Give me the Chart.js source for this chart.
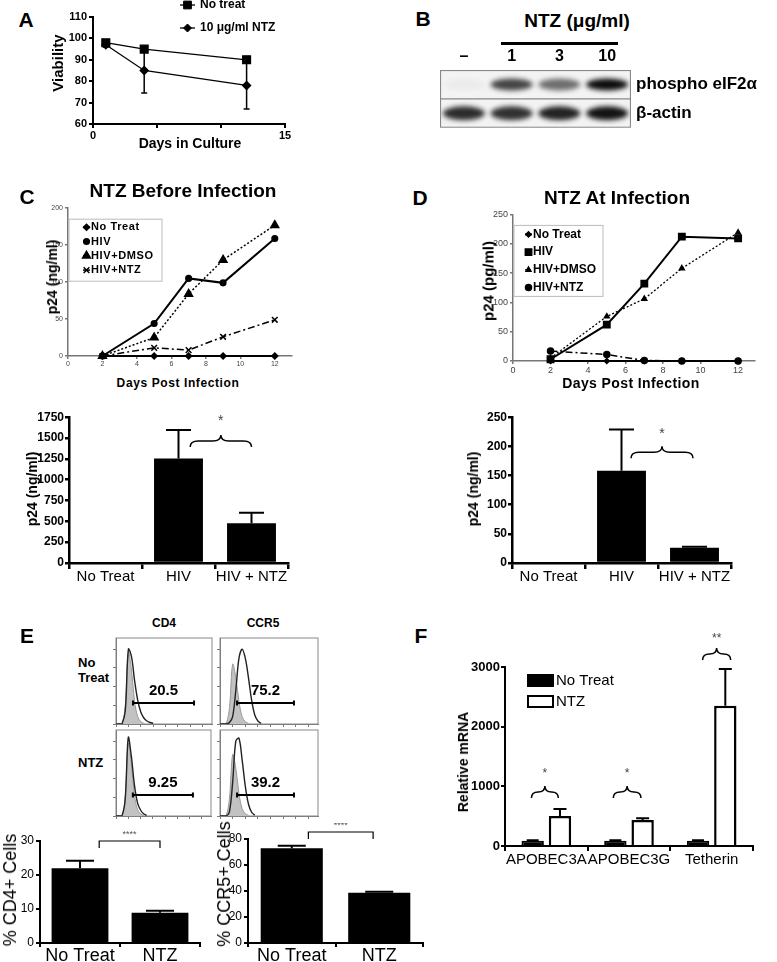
<!DOCTYPE html>
<html>
<head>
<meta charset="utf-8">
<script src="https://cdn.jsdelivr.net/npm/chart.js@4.4.1/dist/chart.umd.min.js"></script>
<style>
body { margin: 0; background: #fff; }
#fig { position: relative; width: 777px; height: 962px; overflow: hidden; font-family: "Liberation Sans", Arial, sans-serif; color: #000; }
#fig canvas { position: absolute; }
.t { position: absolute; white-space: nowrap; transform: translate(-50%, -50%); line-height: 1; }
.b { font-weight: bold; }
.rot { transform: translate(-50%, -50%) rotate(-90deg); }
.lft { transform: translate(0, -50%); }
</style>
</head>
<body>
<div id="fig"></div>
<script>
// A - viability
const viabDays = [1, 4, 12];
const viabNoTreat = [98, 95, 90];
const viabNoTreatErr = [1, 1.2, 1.5];
const viabNtz = [97, 85, 78];
const viabNtzErr = [1, 10.5, 11];

// B - western blot (band darkness 0..1)
const blotLanes = ['–', '1', '3', '10'];
const blotRows = ['phospho eIF2α', 'β-actin'];
const phosphoBand = [0.03, 0.72, 0.55, 0.95];
const actinBand = [0.82, 0.8, 0.86, 0.92];

// C / D - p24 time course
const infDays = [2, 5, 7, 9, 12];
const cNoTreat = [0, 0, 0, 0, 0];
const cHiv = [0, 44, 105, 99, 159];
const cHivDmso = [0, 25, 84, 130, 177];
const cHivNtz = [0, 11, 8, 26, 49];
const dNoTreat = [0, 0, 0, 0, 0];
const dHiv = [3, 62, 132, 212, 209];
const dHivDmso = [5, 76, 106, 158, 219];
const dHivNtz = [17, 11, 1, 0, 0];

// C / D - p24 bars
const p24Groups = ['No Treat', 'HIV', 'HIV + NTZ'];
const cP24 = [0, 1255, 476];
const cP24Err = [0, 340, 127];
const dP24 = [0, 158, 26];
const dP24Err = [0, 71, 2];

// E - flow histograms (counts per bin) and gates
const cd4NtIso = [0, 0, 1, 25, 96, 72, 30, 10, 3, 1];
const cd4NtStain = [0, 0, 1, 18, 100, 90, 58, 32, 16, 8, 4, 2, 1];
const ccr5NtIso = [0, 0, 1, 22, 80, 62, 30, 10, 3, 1];
const ccr5NtStain = [0, 0, 0, 2, 10, 45, 88, 100, 88, 62, 32, 12, 4, 1];
const cd4NtzIso = [0, 0, 1, 26, 97, 70, 28, 9, 3, 1];
const cd4NtzStain = [0, 0, 1, 22, 105, 80, 42, 18, 8, 3, 1];
const ccr5NtzIso = [0, 0, 1, 24, 82, 64, 30, 10, 3, 1];
const ccr5NtzStain = [0, 0, 0, 6, 45, 100, 104, 75, 40, 16, 5, 1];
const gatePct = ['20.5', '75.2', '9.25', '39.2'];

// E - percent positive bars
const eGroups = ['No Treat', 'NTZ'];
const cd4Pct = [22, 8.9];
const cd4Err = [2.2, 0.6];
const ccr5Pct = [72.8, 38.7];
const ccr5Err = [2, 0.8];

// F - relative mRNA
const fGenes = ['APOBEC3A', 'APOBEC3G', 'Tetherin'];
const fNoTreat = [90, 90, 90];
const fNoTreatErr = [8, 8, 8];
const fNtz = [503, 435, 2350];
const fNtzErr = [117, 29, 615];

const FONT = '"Liberation Sans", Arial, sans-serif';
Chart.defaults.font.family = FONT;
Chart.defaults.color = '#000';
Chart.defaults.animation = false;
Chart.defaults.events = [];
Chart.defaults.plugins.legend.display = false;
Chart.defaults.plugins.tooltip.enabled = false;

const fig = document.getElementById('fig');
const pts = (xs, ys) => xs.map((x, i) => ({ x: x, y: ys[i] }));
const bins = ys => ys.map((y, i) => ({ x: i, y: y }));

function text(str, x, y, size, cls, extra) {
    const d = document.createElement('div');
    d.className = 't ' + (cls || '');
    d.style.left = x + 'px';
    d.style.top = y + 'px';
    d.style.fontSize = size + 'px';
    if (extra) Object.assign(d.style, extra);
    d.textContent = str;
    fig.appendChild(d);
}

// error bars on top of points / bars
const errorBars = {
    id: 'errorBars',
    afterDatasetsDraw(chart) {
        const ctx = chart.ctx, ys = chart.scales.y;
        chart.data.datasets.forEach((ds, di) => {
            if (!ds.errors) return;
            const meta = chart.getDatasetMeta(di);
            ctx.save();
            ctx.strokeStyle = '#000';
            ctx.lineWidth = ds.errWidth || 1.5;
            meta.data.forEach((el, i) => {
                const e = ds.errors[i];
                if (!e) return;
                const raw = ds.data[i];
                const v = typeof raw === 'object' ? raw.y : raw;
                const top = ys.getPixelForValue(v + e);
                const bot = ds.errBoth ? ys.getPixelForValue(v - e) : el.y;
                const cap = (ds.errCap || 8) / 2;
                ctx.beginPath();
                ctx.moveTo(el.x, bot); ctx.lineTo(el.x, top);
                ctx.moveTo(el.x - cap, top); ctx.lineTo(el.x + cap, top);
                if (ds.errBoth) { ctx.moveTo(el.x - cap, bot); ctx.lineTo(el.x + cap, bot); }
                ctx.stroke();
            });
            ctx.restore();
        });
    }
};

// legend drawn inside / near the plot
const insetLegend = {
    id: 'insetLegend',
    afterDraw(chart, args, o) {
        if (!o || o.x === undefined) return;
        const ctx = chart.ctx, a = chart.chartArea;
        ctx.save();
        if (o.box) {
            ctx.fillStyle = '#fff';
            ctx.fillRect(a.left + o.box.x, a.top + o.box.y, o.box.w, o.box.h);
            ctx.strokeStyle = '#bbb';
            ctx.lineWidth = 1;
            ctx.strokeRect(a.left + o.box.x, a.top + o.box.y, o.box.w, o.box.h);
        }
        ctx.font = o.textFont;
        if (o.spacing) ctx.letterSpacing = o.spacing;
        ctx.textBaseline = 'middle';
        ctx.textAlign = 'left';
        chart.data.datasets.forEach((ds, i) => {
            const x = a.left + o.x, y = a.top + o.y + i * o.dy;
            if (o.bars) {
                ctx.fillStyle = ds.backgroundColor;
                ctx.strokeStyle = ds.borderColor;
                ctx.lineWidth = 2;
                ctx.fillRect(x, y - o.bh / 2, o.line, o.bh);
                ctx.strokeRect(x, y - o.bh / 2, o.line, o.bh);
            } else {
                ctx.strokeStyle = ds.borderColor;
                ctx.lineWidth = ds.borderWidth;
                ctx.setLineDash(ds.borderDash || []);
                ctx.beginPath(); ctx.moveTo(x, y); ctx.lineTo(x + o.line, y); ctx.stroke();
                ctx.setLineDash([]);
                ctx.fillStyle = ds.pointBackgroundColor || ds.borderColor;
                ctx.lineWidth = ds.pointBorderWidth || 1;
                Chart.helpers.drawPoint(ctx, { pointStyle: ds.pointStyle, radius: ds.pointRadius, rotation: 0, borderWidth: ctx.lineWidth }, x + o.line / 2, y);
            }
            ctx.fillStyle = '#000';
            ctx.fillText(ds.label, x + o.line + o.gap, y);
        });
        ctx.restore();
    }
};

// braces, brackets and flow gates in data space
const marks = {
    id: 'marks',
    afterDraw(chart, args, o) {
        if (!o || !o.items) return;
        const ctx = chart.ctx, xs = chart.scales.x, ys = chart.scales.y;
        ctx.save();
        o.items.forEach(m => {
            const x0 = xs.getPixelForValue(m.x0), x1 = xs.getPixelForValue(m.x1);
            const py = ys.getPixelForValue(m.y), xc = (x0 + x1) / 2;
            const h = m.h || 6;
            ctx.strokeStyle = m.color || '#000';
            ctx.fillStyle = m.color || '#000';
            ctx.lineWidth = m.lw || 1.5;
            ctx.beginPath();
            if (m.type === 'brace') {
                const r = Math.min(8, (x1 - x0) / 4);
                ctx.moveTo(x0, py + h);
                ctx.quadraticCurveTo(x0, py, x0 + r, py);
                ctx.lineTo(xc - r, py);
                ctx.quadraticCurveTo(xc, py, xc, py - h);
                ctx.quadraticCurveTo(xc, py, xc + r, py);
                ctx.lineTo(x1 - r, py);
                ctx.quadraticCurveTo(x1, py, x1, py + h);
            } else if (m.type === 'bracket') {
                ctx.moveTo(x0, py + h); ctx.lineTo(x0, py); ctx.lineTo(x1, py); ctx.lineTo(x1, py + h);
            } else {
                ctx.moveTo(x0, py); ctx.lineTo(x1, py);
                ctx.moveTo(x0, py - 2.5); ctx.lineTo(x0, py + 2.5);
                ctx.moveTo(x1, py - 2.5); ctx.lineTo(x1, py + 2.5);
            }
            ctx.stroke();
            if (m.text) {
                ctx.font = m.textFont;
                ctx.fillStyle = m.textColor || '#000';
                ctx.textAlign = 'center';
                ctx.textBaseline = 'middle';
                ctx.fillText(m.text, xc, py + m.ty);
            }
        });
        ctx.restore();
    }
};

// box around plot area
const frame = {
    id: 'frame',
    beforeDatasetsDraw(chart, args, o) {
        if (!o || !o.color) return;
        const a = chart.chartArea, ctx = chart.ctx;
        ctx.save();
        ctx.strokeStyle = o.color;
        ctx.lineWidth = 1;
        ctx.strokeRect(a.left, a.top, a.width, a.height);
        ctx.restore();
    }
};

// western blot bands placed on the lane / row scales
const blotBands = {
    id: 'blotBands',
    beforeDatasetsDraw(chart, args, o) {
        if (!o || !o.rows) return;
        const ctx = chart.ctx, a = chart.chartArea, xs = chart.scales.x, ys = chart.scales.y;
        const laneW = xs.getPixelForValue(1) - xs.getPixelForValue(0);
        ctx.save();
        ctx.fillStyle = '#f3f3f3';
        ctx.fillRect(a.left, a.top, a.width, a.height);
        ctx.beginPath(); ctx.rect(a.left, a.top, a.width, a.height); ctx.clip();
        o.rows.forEach((row, r) => {
            const cy = ys.getPixelForValue(r);
            row.forEach((v, i) => {
                const cx = xs.getPixelForValue(i);
                ctx.filter = 'blur(2.5px)';
                ctx.fillStyle = 'rgba(0,0,0,' + v + ')';
                ctx.beginPath();
                ctx.ellipse(cx, cy, laneW * 0.44, o.bandH[r] / 2, 0, 0, Math.PI * 2);
                ctx.fill();
            });
        });
        ctx.filter = 'none';
        ctx.strokeStyle = '#888';
        ctx.lineWidth = 1.2;
        ctx.strokeRect(a.left + 0.5, a.top + 0.5, a.width - 1, a.height - 1);
        const mid = (ys.getPixelForValue(0) + ys.getPixelForValue(1)) / 2;
        ctx.beginPath(); ctx.moveTo(a.left, mid); ctx.lineTo(a.right, mid); ctx.stroke();
        ctx.restore();
    }
};

Chart.register(errorBars, insetLegend, marks, frame, blotBands);

function makeChart(area, pad, cfg) {
    const c = document.createElement('canvas');
    const w = area.r - area.l + pad.yw + pad.r;
    const h = area.b - area.t + pad.t + pad.xh;
    c.width = w;
    c.height = h;
    c.style.left = (area.l - pad.yw) + 'px';
    c.style.top = (area.t - pad.t) + 'px';
    fig.appendChild(c);
    Object.assign(cfg.options, {
        responsive: false,
        maintainAspectRatio: false,
        layout: { padding: { top: pad.t, right: pad.r, left: 0, bottom: 0 }, autoPadding: false }
    });
    cfg.options.scales.x.afterFit = s => { s.height = pad.xh; };
    cfg.options.scales.y.afterFit = s => { s.width = pad.yw; };
    return new Chart(c, cfg);
}

function axis(extra, lw, tl, color) {
    const a = Object.assign({
        grid: { display: true, drawOnChartArea: false, drawTicks: true, tickLength: tl, color: color || '#000', lineWidth: lw },
        border: { display: true, color: color || '#000', width: lw },
        ticks: { color: '#000', padding: 2 }
    }, extra);
    Object.assign(a.ticks, { maxRotation: 0, minRotation: 0, autoSkip: false, includeBounds: false, format: { useGrouping: false } });
    return a;
}

// ---------- A ----------
makeChart({ l: 93, t: 17, r: 285, b: 124 }, { yw: 40, xh: 22, t: 17, r: 14 }, {
    type: 'line',
    data: {
        datasets: [
            { label: 'No treat', data: pts(viabDays, viabNoTreat), errors: viabNoTreatErr, errBoth: true, errCap: 6,
              borderColor: '#000', backgroundColor: '#000', pointBackgroundColor: '#000', borderWidth: 1.3,
              pointStyle: 'rect', pointRadius: 5.5, clip: false },
            { label: '10 μg/ml NTZ', data: pts(viabDays, viabNtz), errors: viabNtzErr, errBoth: true, errCap: 6,
              borderColor: '#000', backgroundColor: '#000', pointBackgroundColor: '#000', borderWidth: 1.3,
              pointStyle: 'rectRot', pointRadius: 4, clip: false }
        ]
    },
    options: {
        scales: {
            x: axis({ type: 'linear', min: 0, max: 15,
                ticks: { stepSize: 5, font: { size: 11, weight: 'bold' }, color: '#000', padding: 1,
                         callback: v => (v === 0 || v === 15) ? v : '' } }, 2, 4),
            y: axis({ min: 60, max: 110,
                ticks: { stepSize: 10, font: { size: 11, weight: 'bold' }, color: '#000', padding: 2 } }, 2, 4)
        },
        plugins: {
            insetLegend: { x: 87, y: -12, dy: 23, line: 15, gap: 5, textFont: 'bold 12px ' + FONT }
        }
    }
});
text('A', 26, 19, 21, 'b');
text('Viability', 57, 63, 15, 'b rot');
text('Days in Culture', 190, 143, 14, 'b');

// ---------- B ----------
(function () {
    const c = document.createElement('canvas');
    c.width = 337; c.height = 103;
    c.style.left = '440px'; c.style.top = '40px';
    fig.appendChild(c);
    new Chart(c, {
        type: 'bar',
        data: { labels: blotLanes, datasets: [] },
        options: {
            responsive: false,
            layout: { padding: 0, autoPadding: false },
            scales: {
                x: { position: 'top', offset: true, grid: { display: false, drawTicks: false }, border: { display: false },
                     ticks: { font: { size: 16, weight: 'bold' }, color: '#000', padding: 4, maxRotation: 0 },
                     afterFit: s => { s.height = 30; } },
                y: { type: 'category', labels: blotRows, position: 'right', offset: true,
                     grid: { display: false, drawTicks: false }, border: { display: false },
                     ticks: { font: { size: 17, weight: 'bold' }, color: '#000', padding: 5 },
                     afterFit: s => { s.width = 146; } }
            },
            plugins: { blotBands: { rows: [phosphoBand, actinBand], bandH: [12, 14] } }
        }
    });
})();
text('B', 423, 18, 21, 'b');
text('NTZ (μg/ml)', 577, 20, 19, 'b');
(function () {
    const d = document.createElement('div');
    Object.assign(d.style, { position: 'absolute', left: '501px', top: '42px', width: '117px', height: '3px', background: '#000' });
    fig.appendChild(d);
})();

// ---------- C / D time course ----------
function courseChart(area, yMax, xMax, tickSize, sets, legend) {
    return makeChart(area, { yw: 22, xh: 16, t: 6, r: 8 }, {
        type: 'line',
        data: { datasets: sets },
        options: {
            scales: {
                x: axis({ type: 'linear', min: 0, max: xMax,
                    ticks: { stepSize: 2, font: { size: tickSize }, color: '#444', padding: 1 } }, 1.5, 3, '#777'),
                y: axis({ min: 0, max: yMax,
                    ticks: { stepSize: 50, font: { size: tickSize }, color: '#444', padding: 2 } }, 1.5, 3, '#777')
            },
            plugins: { insetLegend: legend }
        }
    });
}
function lineSet(label, days, vals, style, radius, dash, width) {
    return { label: label, data: pts(days, vals), borderColor: '#000', backgroundColor: '#000',
             pointBackgroundColor: '#000', pointBorderWidth: 1.5, borderWidth: width, borderDash: dash,
             pointStyle: style, pointRadius: radius, clip: false };
}

courseChart({ l: 68, t: 208, r: 292, b: 356 }, 200, 13, 7, [
    lineSet('No Treat', infDays, cNoTreat, 'rectRot', 3, [], 2),
    lineSet('HIV', infDays, cHiv, 'circle', 2.8, [], 2),
    lineSet('HIV+DMSO', infDays, cHivDmso, 'triangle', 4.5, [2, 2], 1.5),
    lineSet('HIV+NTZ', infDays, cHivNtz, 'crossRot', 4, [7, 3, 2, 3], 1.5)
], { x: 15, y: 19, dy: 14.3, line: 7, gap: 1, textFont: 'bold 11px ' + FONT, spacing: '0.6px',
     box: { x: 1, y: 11, w: 93, h: 62 } });
text('C', 27, 196, 21, 'b');
text('NTZ Before Infection', 183, 190, 19, 'b');
text('p24 (ng/ml)', 52, 277, 14, 'b rot');
text('Days Post Infection', 178, 383, 12, 'b', { letterSpacing: '0.6px' });

courseChart({ l: 513, t: 213, r: 755, b: 361 }, 250, 12.9, 9, [
    lineSet('No Treat', infDays, dNoTreat, 'rectRot', 2.5, [], 2),
    lineSet('HIV', infDays, dHiv, 'rect', 4.5, [], 2),
    lineSet('HIV+DMSO', infDays, dHivDmso, 'triangle', 2.8, [2, 2], 1.3),
    lineSet('HIV+NTZ', infDays, dHivNtz, 'circle', 3, [7, 3, 2, 3], 1.5)
], { x: 12, y: 20, dy: 17.7, line: 7, gap: 1, textFont: 'bold 12px ' + FONT,
     box: { x: 1, y: 11, w: 89, h: 71 } });
text('D', 420, 197, 21, 'b');
text('NTZ At Infection', 617, 197, 19, 'b');
text('p24 (pg/ml)', 488, 281, 15, 'b rot');
text('Days Post Infection', 631, 383, 14, 'b', { letterSpacing: '0.4px' });

// ---------- C / D bars ----------
function p24Bars(area, vals, errs, yMax, step, braceItems) {
    return makeChart(area, { yw: 45, xh: 24, t: 8, r: 8 }, {
        type: 'bar',
        data: { labels: p24Groups, datasets: [
            { data: vals, errors: errs, errCap: 25, errWidth: 2, backgroundColor: '#000', borderColor: '#000',
              barPercentage: 0.67, categoryPercentage: 1 }
        ] },
        options: {
            scales: {
                x: axis({ ticks: { font: { size: 15 }, color: '#000', padding: -1 } }, 2.5, 6),
                y: axis({ min: 0, max: yMax, ticks: { stepSize: step, font: { size: 12, weight: 'bold' }, color: '#000', padding: 1 } }, 2.5, 4)
            },
            plugins: { marks: { items: braceItems } }
        }
    });
}
p24Bars({ l: 69, t: 417, r: 288, b: 563 }, cP24, cP24Err, 1750, 250, [
    { type: 'brace', x0: 1.16, x1: 2.0, y: 1463, h: 6, text: '*', ty: -20, textFont: '14px ' + FONT, textColor: '#444' }
]);
text('p24 (ng/ml)', 32, 489, 14, 'b rot');
p24Bars({ l: 512, t: 417, r: 731, b: 563 }, dP24, dP24Err, 250, 50, [
    { type: 'brace', x0: 1.13, x1: 1.98, y: 190, h: 6, text: '*', ty: -18, textFont: '14px ' + FONT, textColor: '#444' }
]);
text('p24 (ng/ml)', 473, 489, 14, 'b rot');

// ---------- E histograms ----------
function histChart(area, iso, stain, gateFrom, gateTo, label) {
    return makeChart(area, { yw: 4, xh: 4, t: 2, r: 2 }, {
        type: 'line',
        data: { datasets: [
            { data: bins(stain), borderColor: '#222', borderWidth: 1.4, fill: false, pointRadius: 0, tension: 0.35, order: 0 },
            { data: bins(iso), borderColor: '#999', backgroundColor: '#c2c2c2', borderWidth: 1, fill: 'origin', pointRadius: 0, tension: 0.35, order: 1 }
        ] },
        options: {
            scales: {
                x: axis({ type: 'linear', min: 0, max: 31, ticks: { display: false, stepSize: 4 } }, 1, 3, '#777'),
                y: axis({ min: 0, max: 115, ticks: { display: false, stepSize: 25 } }, 1, 3, '#777')
            },
            plugins: {
                frame: { color: '#888' },
                marks: { items: [{ type: 'gate', x0: gateFrom, x1: gateTo, y: 28, lw: 2, text: label, ty: -12, textFont: 'bold 15px ' + FONT }] }
            }
        }
    });
}
histChart({ l: 116, t: 638, r: 212, b: 724 }, cd4NtIso, cd4NtStain, 5.5, 25.2, gatePct[0]);
histChart({ l: 220, t: 638, r: 318, b: 724 }, ccr5NtIso, ccr5NtStain, 5.4, 23.4, gatePct[1]);
histChart({ l: 116, t: 730, r: 211, b: 816 }, cd4NtzIso, cd4NtzStain, 5.5, 25.1, gatePct[2]);
histChart({ l: 220, t: 730, r: 318, b: 816 }, ccr5NtzIso, ccr5NtzStain, 5.4, 23.4, gatePct[3]);
text('E', 27, 635, 21, 'b');
text('CD4', 164, 623, 12, 'b');
text('CCR5', 263, 623, 12, 'b');
text('No', 78, 662, 13, 'b lft');
text('Treat', 78, 677, 13, 'b lft');
text('NTZ', 78, 762, 13, 'b lft');

// ---------- E bars ----------
function pctBars(area, vals, errs, yMax, step, bracket, tPad) {
    return makeChart(area, { yw: 25, xh: 22, t: tPad, r: 4 }, {
        type: 'bar',
        data: { labels: eGroups, datasets: [
            { data: vals, errors: errs, errCap: 28, errWidth: 2, backgroundColor: '#000', borderColor: '#000',
              barPercentage: 0.71, categoryPercentage: 1 }
        ] },
        options: {
            scales: {
                x: axis({ ticks: { font: { size: 18 }, color: '#000', padding: -2 } }, 2, 4),
                y: axis({ min: 0, max: yMax, ticks: { stepSize: step, font: { size: 12 }, color: '#000', padding: 2 } }, 2, 4)
            },
            plugins: { marks: { items: [bracket] } }
        }
    });
}
pctBars({ l: 40, t: 841, r: 200, b: 943 }, cd4Pct, cd4Err, 30, 10,
    { type: 'bracket', x0: 0.24, x1: 1.0, y: 30, h: 7, lw: 1.2, text: '****', ty: -6, textFont: '9px ' + FONT, textColor: '#555' }, 14);
pctBars({ l: 248, t: 839, r: 423, b: 943 }, ccr5Pct, ccr5Err, 80, 20,
    { type: 'bracket', x0: 0.19, x1: 0.93, y: 85.4, h: 7, lw: 1.2, text: '****', ty: -6, textFont: '9px ' + FONT, textColor: '#555' }, 16);
text('% CD4+ Cells', 10, 890, 18, 'rot');
text('% CCR5+ Cells', 224, 884, 18, 'rot');

// ---------- F ----------
makeChart({ l: 505, t: 667, r: 753, b: 846 }, { yw: 45, xh: 26, t: 35, r: 10 }, {
    type: 'bar',
    data: { labels: fGenes, datasets: [
        { label: 'No Treat', data: fNoTreat, errors: fNoTreatErr, errCap: 12, errWidth: 2,
          backgroundColor: '#000', borderColor: '#000', borderWidth: 2, barPercentage: 0.82, categoryPercentage: 0.66 },
        { label: 'NTZ', data: fNtz, errors: fNtzErr, errCap: 13, errWidth: 2,
          backgroundColor: '#fff', borderColor: '#000', borderWidth: 2.5, barPercentage: 0.82, categoryPercentage: 0.66 }
    ] },
    options: {
        scales: {
            x: axis({ ticks: { font: { size: 15 }, color: '#000', padding: 0 } }, 2, 5),
            y: axis({ min: 0, max: 3000, ticks: { stepSize: 1000, font: { size: 13, weight: 'bold' }, color: '#000', padding: 1 } }, 2, 4)
        },
        plugins: {
            insetLegend: { x: 23, y: 13.5, dy: 21, line: 25, gap: 3, bh: 11, bars: true, textFont: '15px ' + FONT },
            marks: { items: [
                { type: 'brace', x0: -0.18, x1: 0.145, y: 905, h: 6, text: '*', ty: -18, textFont: '12px ' + FONT, textColor: '#444' },
                { type: 'brace', x0: 0.81, x1: 1.145, y: 905, h: 6, text: '*', ty: -18, textFont: '12px ' + FONT, textColor: '#444' },
                { type: 'brace', x0: 1.89, x1: 2.23, y: 3216, h: 6, text: '**', ty: -15, textFont: '12px ' + FONT, textColor: '#444' }
            ] }
        }
    }
});
text('F', 421, 635, 21, 'b');
text('Relative mRNA', 463, 762, 14, 'b rot');
</script>
</body>
</html>
